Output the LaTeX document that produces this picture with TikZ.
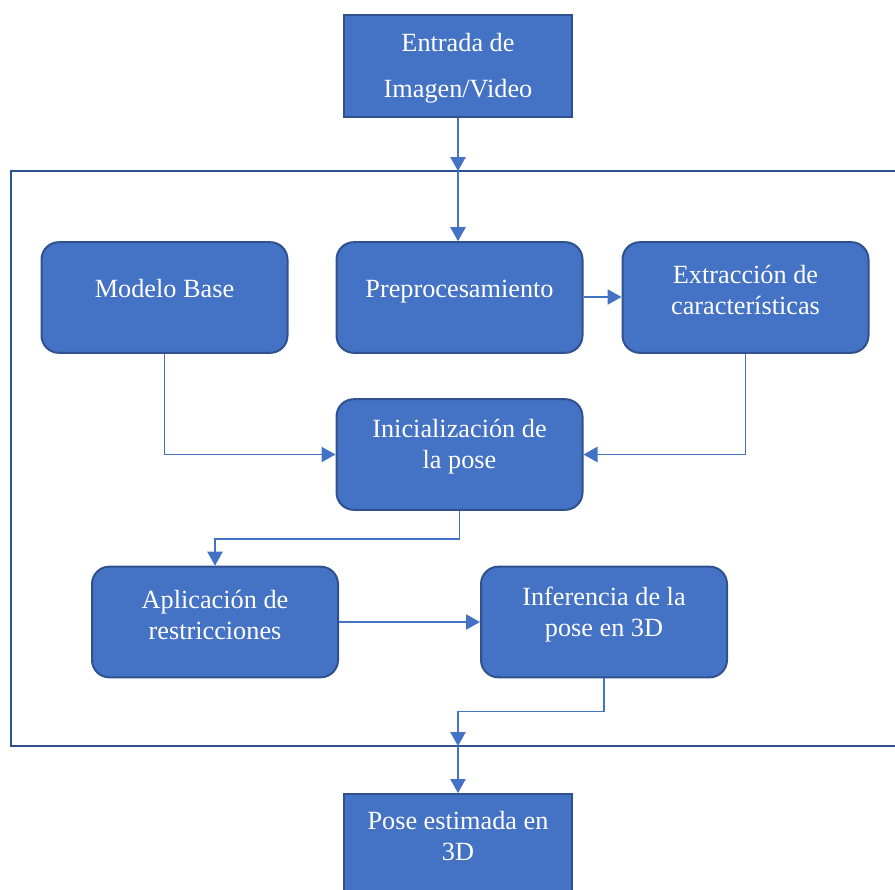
\documentclass[tikz,border=0pt]{standalone}
\usepackage{fontspec}
\setmainfont{Liberation Serif}
\usetikzlibrary{arrows.meta}
\definecolor{boxfill}{HTML}{4472C4}
\definecolor{boxline}{HTML}{2F528F}
\tikzset{
  sqbox/.style={draw=boxline, fill=boxfill, line width=1.5pt, minimum width=171pt, minimum height=76.5pt, inner sep=0pt},
  rbox/.style={draw=boxline, fill=boxfill, line width=1.5pt, rounded corners=13pt, minimum width=184.5pt, minimum height=83pt, inner sep=0pt},
  txt/.style={text=white, align=center, font=\fontsize{19.7}{23.25}\selectfont, inner sep=0pt},
  txtwide/.style={text=white, align=center, font=\fontsize{19.7}{34.5}\selectfont, inner sep=0pt},
  arr/.style={draw=boxfill, line width=1pt, -{Triangle[length=10.5pt,width=11.5pt]}},
  framebox/.style={draw=boxline, line width=1.5pt}
}
\begin{document}
\begin{tikzpicture}[x=0.75pt,y=-0.75pt]
\useasboundingbox (0,0) rectangle (895,889);
\clip (0,0) rectangle (895,889);
% frame
\draw[framebox] (11,171) rectangle (900,746);
\coordinate (ftop) at (458,171);
\coordinate (fbot) at (458,746);
% boxes
\node[sqbox] (top) at (458,66) {};
\node[txtwide] (ttop) at (458,68) {Entrada de\\Imagen/Video};
\node[sqbox] (pose) at (458,845) {};
\node[txt] (tpose) at (458,836) {Pose estimada en\\3D};
\node[rbox] (mb) at (164.5,297.5) {};
\node[txt] (tmb) at (164.5,289) {Modelo Base};
\node[rbox] (pre) at (459.5,297.5) {};
\node[txt] (tpre) at (459.5,291.5) {Preprocesamiento};
\node[rbox] (ext) at (745.5,297.5) {};
\node[txt] (text) at (745.5,290) {Extracción de\\características};
\node[rbox] (ini) at (459.5,454.5) {};
\node[txt] (tini) at (459.5,447) {Inicialización de\\la pose};
\node[rbox] (apl) at (215,622) {};
\node[txt] (tapl) at (215,615) {Aplicación de\\restricciones};
\node[rbox] (inf) at (604,622) {};
\node[txt] (tinf) at (604,615) {Inferencia de la\\pose en 3D};
% connectors
\draw[arr] (top.south) -- (ftop);
\draw[arr] (ftop) -- (ftop |- pre.north);
\draw[arr] (pre.east |- 0,297) -- (ext.west |- 0,297);
\draw[arr] (mb.south) |- (ini.west);
\draw[arr] (ext.south) |- (ini.east);
\draw[arr] (ini.south) -- ++(0,28) -| (apl.north);
\draw[arr] (apl.east) -- (inf.west);
\draw[arr] (inf.south) -- ++(0,33) -| (fbot);
\draw[arr] (fbot) -- (pose.north);
\end{tikzpicture}
\end{document}
